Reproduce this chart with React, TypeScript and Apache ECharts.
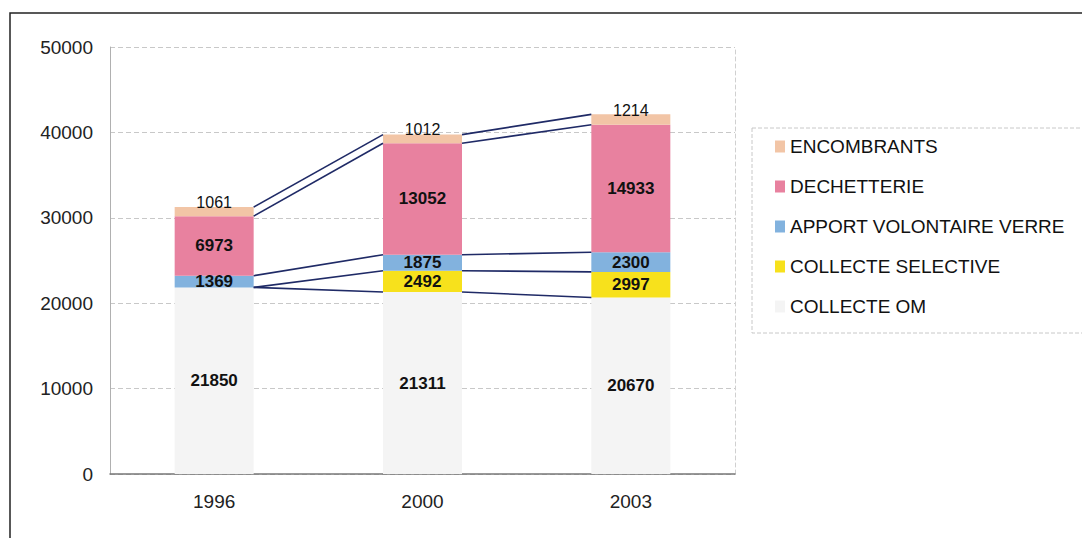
import React, { useEffect, useRef } from "react";
import * as echarts from "echarts";

const years = ["1996", "2000", "2003"];
const collecteOM = [21850, 21311, 20670];
const collecteSelective = [0, 2492, 2997];
const apportVerre = [1369, 1875, 2300];
const dechetterie = [6973, 13052, 14933];
const encombrants = [1061, 1012, 1214];
const yTicks = { min: 0, max: 50000, interval: 10000 };

const seriesDefs = [
  { name: "COLLECTE OM", data: collecteOM, color: "#f4f4f4", bold: true },
  { name: "COLLECTE SELECTIVE", data: collecteSelective, color: "#f7e11c", bold: true },
  { name: "APPORT VOLONTAIRE VERRE", data: apportVerre, color: "#82b2de", bold: true },
  { name: "DECHETTERIE", data: dechetterie, color: "#e8819f", bold: true },
  { name: "ENCOMBRANTS", data: encombrants, color: "#f2c5a6", bold: false },
];

const legendOrder = [
  "ENCOMBRANTS",
  "DECHETTERIE",
  "APPORT VOLONTAIRE VERRE",
  "COLLECTE SELECTIVE",
  "COLLECTE OM",
];

const BAR_W = 79;
const FONT = "'Liberation Sans', Arial, Helvetica, sans-serif";

export default function App() {
  const ref = useRef<HTMLDivElement>(null);
  useEffect(() => {
    if (!ref.current) return;
    const chart = echarts.init(ref.current, null, { renderer: "svg" });

    // cumulative tops for Excel-style series lines
    const cum: number[][] = [];
    let running = years.map(() => 0);
    seriesDefs.forEach((s) => {
      running = running.map((v, i) => v + s.data[i]);
      cum.push(running.slice());
    });
    const lineData: number[][] = [];
    cum.forEach((tops) => {
      for (let i = 0; i < years.length - 1; i++) {
        lineData.push([i, tops[i], tops[i + 1]]);
      }
    });

    const barSeries = seriesDefs.map((s) => ({
      name: s.name,
      type: "bar",
      stack: "total",
      barWidth: BAR_W,
      data: s.data,
      itemStyle: { color: s.color },
      label: {
        show: true,
        position: "inside",
        offset: s.bold ? [0, 0] : [0, -9],
        color: "#111",
        fontFamily: FONT,
        fontSize: s.bold ? 17 : 16,
        fontWeight: s.bold ? "bold" : "normal",
        formatter: (p: any) => (p.value ? String(p.value) : ""),
      },
      z: 2,
    }));

    const option: any = {
      animation: false,
      backgroundColor: "#ffffff",
      textStyle: { fontFamily: FONT },
      grid: { left: 110, top: 47, width: 625, height: 427, show: false },
      xAxis: {
        type: "category",
        data: years,
        axisLine: { lineStyle: { color: "#777", width: 1.5 } },
        axisTick: { show: false },
        axisLabel: { color: "#222", fontSize: 19, margin: 18, fontFamily: FONT },
      },
      yAxis: [
        {
          type: "value",
          min: yTicks.min,
          max: yTicks.max,
          interval: yTicks.interval,
          axisLine: { show: true, lineStyle: { color: "#b0b0b0" } },
          axisTick: { show: false },
          axisLabel: {
            color: "#222",
            fontSize: 19,
            margin: 17,
            fontFamily: FONT,
            formatter: (v: number) => String(v),
          },
          splitLine: { lineStyle: { color: "#c8c8c8", type: [5, 3] } },
        },
        {
          type: "value",
          position: "right",
          min: yTicks.min,
          max: yTicks.max,
          interval: yTicks.interval,
          axisLine: { show: true, lineStyle: { color: "#d0d0d0", type: [4, 3] } },
          axisTick: { show: false },
          axisLabel: { show: false },
          splitLine: { show: false },
        },
      ],
      legend: {
        orient: "vertical",
        left: 770,
        top: 132,
        itemWidth: 10,
        itemHeight: 12,
        itemGap: 21,
        icon: "rect",
        data: legendOrder,
        textStyle: { color: "#111", fontSize: 19, fontFamily: FONT },
        selectedMode: false,
      },
      graphic: [
        {
          type: "rect",
          shape: { x: 752, y: 128, width: 340, height: 205 },
          style: { fill: "none", stroke: "#c8c8c8", lineWidth: 1, lineDash: [4, 2] },
          silent: true,
        },
        {
          type: "rect",
          shape: { x: 10, y: 13, width: 1100, height: 600 },
          style: { fill: "none", stroke: "#222", lineWidth: 1.5 },
          silent: true,
        },
      ],
      series: [
        ...barSeries,
        {
          type: "custom",
          name: "series-lines",
          silent: true,
          dimensions: ["i", "a", "b"],
          encode: { x: 0, y: [1, 2] },
          data: lineData,
          z: 5,
          renderItem: (params: any, api: any) => {
            const i = api.value(0);
            const a = api.coord([i, api.value(1)]);
            const b = api.coord([i + 1, api.value(2)]);
            const half = BAR_W / 2;
            return {
              type: "line",
              shape: { x1: a[0] + half, y1: a[1], x2: b[0] - half, y2: b[1] },
              style: { stroke: "#1f2a66", lineWidth: 1.6 },
            };
          },
        },
      ],
    };
    chart.setOption(option);
    return () => chart.dispose();
  }, []);
  return (
    <div
      ref={ref}
      style={{ position: "fixed", left: 0, top: 0, width: 1082, height: 538 }}
    />
  );
}
